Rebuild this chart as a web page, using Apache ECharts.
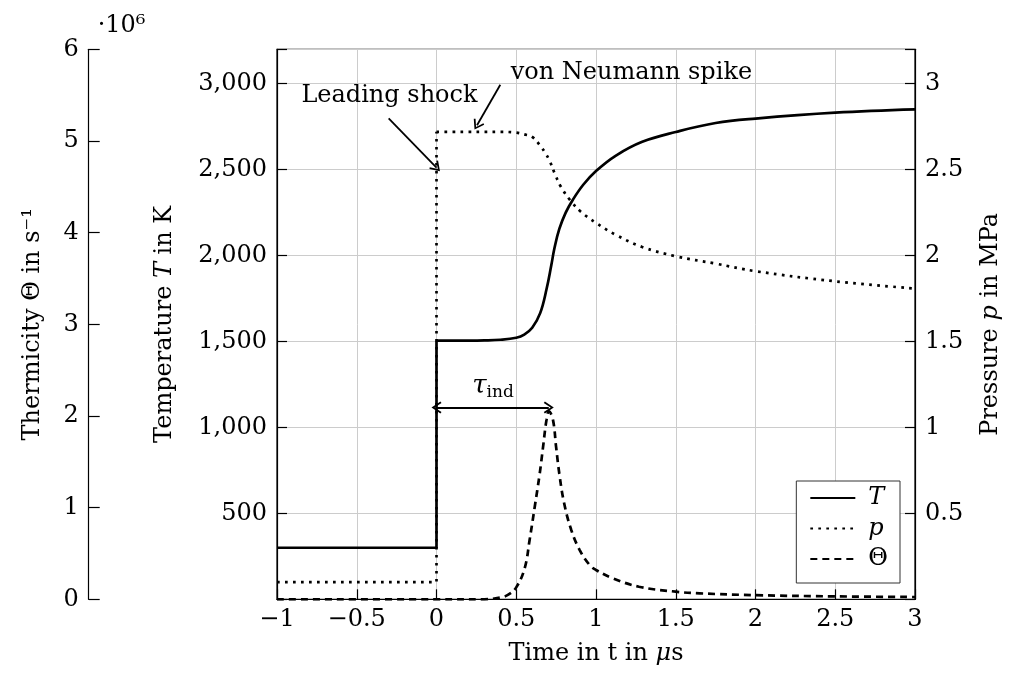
<!DOCTYPE html>
<html><head><meta charset="utf-8">
<script src="https://cdn.jsdelivr.net/npm/echarts@6/dist/echarts.min.js"></script>
<style>html,body{margin:0;padding:0;background:#fff}#c{width:1012px;height:677px}</style>
</head><body><div id="c"></div>
<script>
// Temperature T in K
const timeT = [-1, 0, 0, 0.1, 0.2, 0.3, 0.4, 0.5, 0.55, 0.6, 0.65, 0.69, 0.72, 0.74, 0.77, 0.81, 0.855, 0.92, 1.0, 1.125, 1.29, 1.5, 1.75, 2.0, 2.5, 3.0];
const temperature = [300, 300, 1505, 1505, 1505, 1506, 1510, 1522, 1540, 1580, 1665, 1805, 1945, 2045, 2155, 2250, 2325, 2412, 2492, 2582, 2662, 2719, 2771, 2797, 2831, 2850];
// Pressure p in MPa
const timeP = [-1, 0, 0, 0.1, 0.2, 0.3, 0.4, 0.5, 0.55, 0.6, 0.65, 0.68, 0.71, 0.74, 0.78, 0.84, 0.905, 1.0, 1.125, 1.29, 1.5, 1.75, 2.0, 2.5, 3.0];
const pressure = [0.1, 0.1, 2.72, 2.72, 2.72, 2.72, 2.72, 2.715, 2.705, 2.69, 2.64, 2.60, 2.55, 2.48, 2.40, 2.32, 2.255, 2.19, 2.12, 2.05, 1.996, 1.953, 1.909, 1.85, 1.808];
// Thermicity Theta in 10^6 s^-1
const timeTheta = [-1, 0, 0.3, 0.4, 0.45, 0.5, 0.553, 0.584, 0.616, 0.647, 0.668, 0.69, 0.705, 0.73, 0.75, 0.77, 0.8, 0.845, 0.897, 0.96, 1.0, 1.105, 1.27, 1.5, 1.65, 2.0, 2.5, 3.0];
const thermicity = [0, 0, 0, 0.02, 0.05, 0.13, 0.34, 0.65, 1.01, 1.37, 1.66, 1.96, 2.05, 1.96, 1.66, 1.37, 1.05, 0.756, 0.54, 0.374, 0.32, 0.23, 0.137, 0.083, 0.065, 0.045, 0.032, 0.025];

const FONT = "'DejaVu Serif', serif";
const base = {fontFamily: FONT, fontSize: 24, color: '#000'};
const ital = Object.assign({}, base, {fontStyle: 'italic'});
const zip = (a, b) => a.map((v, i) => [v, b[i]]);
const ARROW = 'path://M5,0 L10,7.5 L8.8,8.4 L5,2.6 L1.2,8.4 L0,7.5 Z';
const tickStyle = {color: '#000', width: 1.2};
const SMOOTH = 0.4;

const tData = zip(timeT, temperature);
const pData = zip(timeP, pressure);
const thData = zip(timeTheta, thermicity);

const solid = {color: '#000', width: 2.7};
const dotted = {color: '#000', width: 2.7, type: [2.7, 5.3]};
const dashed = {color: '#000', width: 2.7, type: [7, 5]};

const chart = echarts.init(document.getElementById('c'));
chart.setOption({
  animation: false,
  textStyle: {fontFamily: FONT},
  grid: {left: 277, right: 97, top: 49.3, bottom: 77.7, show: true, borderColor: '#000', borderWidth: 1.2},
  xAxis: {
    type: 'value', min: -1, max: 3, interval: 0.5,
    name: '{n|Time in t in }{i|μ}{n|s}', nameLocation: 'middle', nameGap: 42,
    nameTextStyle: {rich: {n: base, i: ital}},
    axisLine: {show: true, onZero: false, lineStyle: tickStyle},
    axisTick: {show: true, inside: true, length: 10, lineStyle: tickStyle},
    axisLabel: Object.assign({}, base, {margin: 8, formatter: v => String(v).replace('-', '\u2212')}),
    splitLine: {show: true, lineStyle: {color: '#cccccc', width: 1}}
  },
  yAxis: [
    { // thermicity
      type: 'value', min: 0, max: 6, interval: 1, position: 'left', offset: 188.3,
      name: 'Thermicity Θ in s⁻¹', nameLocation: 'middle', nameGap: 44,
      nameTextStyle: base,
      axisLine: {show: true, onZero: false, lineStyle: tickStyle},
      axisTick: {show: true, inside: true, length: 11, lineStyle: tickStyle},
      axisLabel: Object.assign({}, base, {margin: 10}),
      splitLine: {show: false}
    },
    { // temperature
      type: 'value', min: 0, max: 3200, interval: 500, position: 'left',
      name: '{n|Temperature }{i|T}{n| in K}', nameLocation: 'middle', nameGap: 100,
      nameTextStyle: {rich: {n: base, i: ital}},
      axisLine: {show: true, onZero: false, lineStyle: tickStyle},
      axisTick: {show: true, inside: true, length: 10, lineStyle: tickStyle},
      axisLabel: Object.assign({}, base, {margin: 10, formatter: v => (v === 0 || v % 500 !== 0) ? '' : v.toLocaleString('en-US')}),
      splitLine: {show: true, lineStyle: {color: '#cccccc', width: 1}}
    },
    { // pressure
      type: 'value', min: 0, max: 3.2, interval: 0.5, position: 'right',
      name: '{n|Pressure }{i|p}{n| in MPa}', nameLocation: 'middle', nameGap: 64,
      nameTextStyle: {rich: {n: base, i: ital}},
      axisLine: {show: true, onZero: false, lineStyle: tickStyle},
      axisTick: {show: true, inside: true, length: 10, lineStyle: tickStyle},
      axisLabel: Object.assign({}, base, {margin: 10, formatter: v => (v === 0 || v > 3.01) ? '' : String(v)}),
      splitLine: {show: false}
    },
    { // scale factor label for thermicity
      type: 'value', min: 0, max: 6, position: 'left', offset: 188.3,
      name: '·10⁶', nameLocation: 'end', nameGap: 12,
      nameTextStyle: Object.assign({}, base, {align: 'left', verticalAlign: 'bottom', padding: [0, 0, 0, 9]}),
      axisLine: {show: false, onZero: false}, axisTick: {show: false}, axisLabel: {show: false}, splitLine: {show: false}
    }
  ],
  legend: {
    orient: 'vertical', right: 112, top: 481, itemWidth: 45, itemHeight: 14, itemGap: 6.5,
    padding: [5, 12, 12, 13], borderColor: '#333', borderWidth: 1, backgroundColor: '#fff',
    selectedMode: false,
    itemStyle: {opacity: 0, borderWidth: 0},
    data: ['T', 'p', 'Θ'],
    formatter: name => name === 'Θ' ? '{n|Θ}' : '{i|' + name + '}',
    textStyle: Object.assign({}, base, {lineHeight: 24, padding: [0, 0, 0, 8], rich: {n: base, i: ital}})
  },
  series: [
    {
      name: 'T', type: 'line', yAxisIndex: 1, data: tData.slice(2), smooth: SMOOTH,
      symbol: 'none', showSymbol: false, lineStyle: solid, itemStyle: {color: '#000'}, z: 4,
      markLine: {
        silent: true, animation: false, symbol: ['none', 'none'], label: {show: false},
        emphasis: {disabled: true},
        lineStyle: {color: '#000', width: 1.8, type: 'solid'},
        data: [
          [{coord: [-0.30, 2798], symbol: 'none'}, {coord: [0, 2512], symbol: ARROW, symbolSize: [12, 10]}],
          [{coord: [0.40, 2994], symbol: 'none'}, {coord: [0.254, 2758], symbol: ARROW, symbolSize: [12, 10]}],
          [{coord: [0, 1116], symbol: ARROW, symbolSize: [12, 10]}, {coord: [0.704, 1116], symbol: ARROW, symbolSize: [12, 10]}]
        ]
      },
      markPoint: {
        silent: true, animation: false, symbol: 'circle', symbolSize: 1, itemStyle: {color: 'rgba(0,0,0,0)'},
        label: Object.assign({}, base, {show: true, position: 'inside'}),
        data: [
          {coord: [-0.295, 2932], value: 0, label: {formatter: 'Leading shock'}},
          {coord: [1.222, 3066], value: 0, label: {formatter: 'von Neumann spike'}},
          {coord: [0.354, 1240], value: 0, label: {formatter: '{t|τ}{s|ind}', rich: {
            t: Object.assign({}, ital, {fontSize: 26, lineHeight: 30}),
            s: Object.assign({}, base, {fontSize: 17, lineHeight: 16, verticalAlign: 'bottom'})
          }}}
        ]
      }
    },
    {
      name: 'T', type: 'line', yAxisIndex: 1, data: tData.slice(0, 3),
      symbol: 'none', showSymbol: false, lineStyle: solid, itemStyle: {color: '#000'}, z: 4
    },
    {
      name: 'p', type: 'line', yAxisIndex: 2, data: pData.slice(2), smooth: SMOOTH,
      symbol: 'none', showSymbol: false, lineStyle: dotted, itemStyle: {color: '#000'}, z: 3
    },
    {
      name: 'p', type: 'line', yAxisIndex: 2, data: pData.slice(0, 3),
      symbol: 'none', showSymbol: false, lineStyle: dotted, itemStyle: {color: '#000'}, z: 3
    },
    {
      name: 'Θ', type: 'line', yAxisIndex: 0, data: thData, smooth: SMOOTH,
      symbol: 'none', showSymbol: false, lineStyle: dashed, itemStyle: {color: '#000'}, z: 3
    }
  ]
});
</script></body></html>
